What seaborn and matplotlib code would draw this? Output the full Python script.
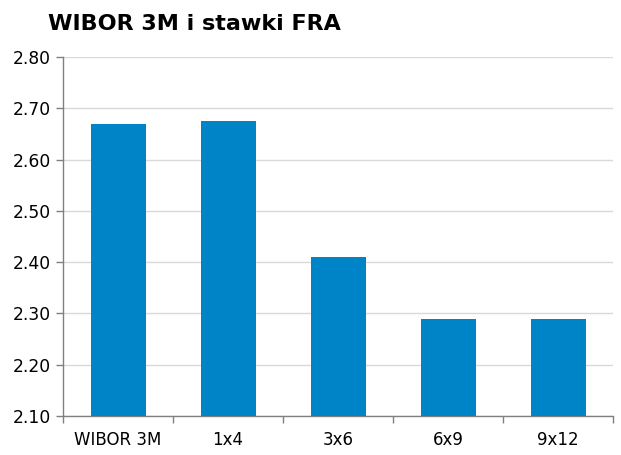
import pandas as pd
import seaborn as sns
import matplotlib.pyplot as plt
import numpy as np

kategorie = ["WIBOR 3M", "1x4", "3x6", "6x9", "9x12"]
stawki = [2.67, 2.675, 2.41, 2.29, 2.29]
yticks = [2.10, 2.20, 2.30, 2.40, 2.50, 2.60, 2.70, 2.80]

df = pd.DataFrame({"kat": kategorie, "stawka": stawki})

sns.set_style("white")
plt.rcParams["font.family"] = ["DejaVu Sans"]
plt.rcParams["text.color"] = "black"
plt.rcParams["xtick.color"] = "black"
plt.rcParams["ytick.color"] = "black"

fig = plt.figure(figsize=(6.21, 4.55), dpi=100)
ax = fig.add_axes([63 / 621, 1 - 416 / 455, 550 / 621, 359 / 455])

sns.barplot(data=df, x="kat", y="stawka", color="#0084C8", width=0.5,
            saturation=1, linewidth=0, ax=ax, zorder=3)

ax.set_ylim(2.10, 2.80)
ax.set_xlim(-0.5, len(kategorie) - 0.5)
ax.set_yticks(yticks)
ax.set_yticklabels([f"{v:.2f}" for v in yticks], fontsize=12.3)
ax.set_xlabel("")
ax.set_ylabel("")
ax.tick_params(axis="x", which="major", length=0, labelsize=12, pad=11)
ax.set_xticks(np.arange(-0.5, len(kategorie)), minor=True)
ax.tick_params(axis="x", which="minor", bottom=True, length=5, width=1,
               color="#808080", direction="out")
ax.tick_params(axis="y", left=True, length=5, width=1, color="#808080",
               direction="out", pad=4)
ax.grid(axis="y", color="#d9d9d9", linewidth=1, zorder=0)
ax.set_axisbelow(True)

for s in ["top", "right"]:
    ax.spines[s].set_visible(False)
for s in ["left", "bottom"]:
    ax.spines[s].set_color("#808080")
    ax.spines[s].set_linewidth(1)

fig.text(48 / 621, 1 - 24 / 455, "WIBOR 3M i stawki FRA", fontsize=16,
         fontweight="bold", va="center", ha="left")

fig.savefig("out.png", dpi=100)
